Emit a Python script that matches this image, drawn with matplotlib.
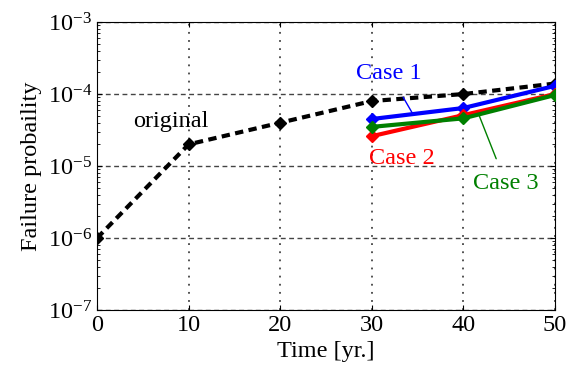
import matplotlib
matplotlib.use("Agg")
import matplotlib.pyplot as plt

years = [0, 10, 20, 30, 40, 50]
original = [1e-6, 2e-5, 4e-5, 8e-5, 1.0e-4, 1.4e-4]
case_years = [30, 40, 50]
case1 = [4.5e-5, 6.4e-5, 1.3e-4]
case2 = [2.6e-5, 5.1e-5, 1.0e-4]
case3 = [3.5e-5, 4.6e-5, 9.7e-5]

plt.rcParams["font.family"] = ["Liberation Serif", "DejaVu Serif"]
plt.rcParams["mathtext.fontset"] = "stix"
fs = 17.5

fig = plt.figure(figsize=(5.71, 3.74), dpi=100)
ax = fig.add_axes([0.170, 0.171, 0.802, 0.770])

ax.plot(years, original, color="black", linestyle=(0, (2, 1.3)), linewidth=3,
        marker="D", markersize=6.5, zorder=3)
ax.plot(case_years, case1, color="blue", linewidth=3, marker="D", markersize=6.5, zorder=3)
ax.plot(case_years, case2, color="red", linewidth=3, marker="D", markersize=6.5, zorder=3)
ax.plot(case_years, case3, color="green", linewidth=3, marker="D", markersize=6.5, zorder=3)

ax.set_yscale("log")
ax.set_xlim(0, 50)
ax.set_ylim(1e-7, 1e-3)
ax.set_xticks([0, 10, 20, 30, 40, 50])
ax.grid(True, axis="y", which="major", color="#444444", linestyle=(0, (3.5, 2.5)), linewidth=1)
ax.grid(True, axis="x", which="major", color="#444444", linestyle=(0, (1, 3.5)), linewidth=1.3)
ax.tick_params(which="both", direction="in", top=True, right=True, labelsize=fs)
ax.tick_params(axis="x", which="minor", top=False, bottom=False)
ax.set_xlabel("Time [yr.]", fontsize=fs)
ax.set_ylabel("Failure probaility", fontsize=fs)

ax.text(8.0, 4.1e-5, "original", fontsize=fs, ha="center", va="center")
ax.annotate("Case 1", xy=(34.4, 5.5e-5), xytext=(31.9, 1.95e-4), color="blue",
            fontsize=fs, ha="center", va="center",
            arrowprops=dict(arrowstyle="-", color="blue", lw=1, shrinkA=9, shrinkB=0))
ax.text(33.3, 1.29e-5, "Case 2", color="red", fontsize=fs, ha="center", va="center")
ax.annotate("Case 3", xy=(41.7, 5.1e-5), xytext=(44.65, 5.7e-6), color="green",
            fontsize=fs, ha="center", va="center",
            arrowprops=dict(arrowstyle="-", color="green", lw=1, shrinkA=9, shrinkB=0))

fig.savefig("out.png", dpi=100)
